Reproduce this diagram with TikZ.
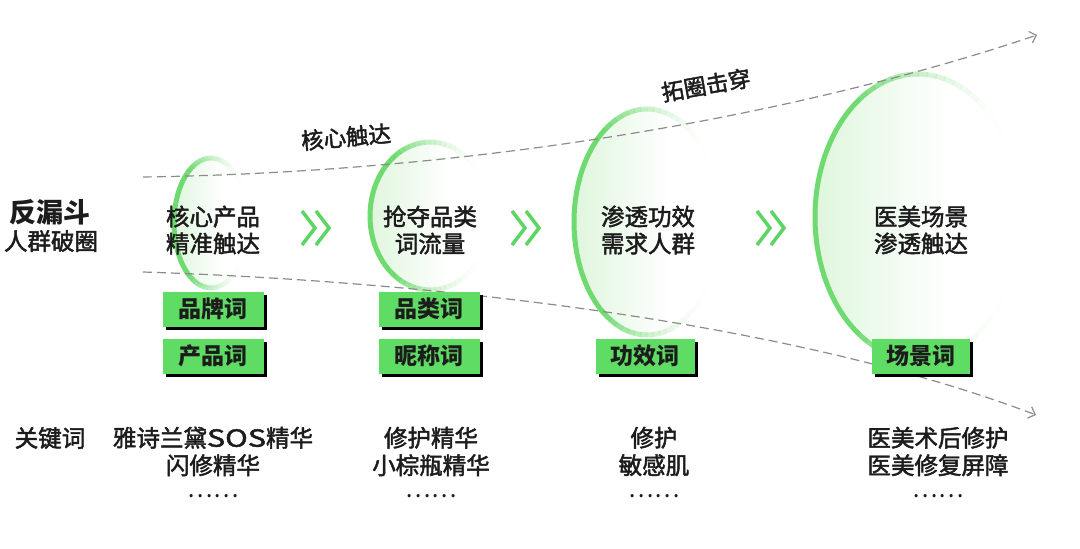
\documentclass[tikz,border=0pt]{standalone}
\usepackage{fontspec}
\setmainfont{Noto Sans CJK SC}
\newfontfamily\medfont{Noto Sans CJK SC}[FakeBold=2]
\usetikzlibrary{shadows,arrows.meta}
\definecolor{ringgreen}{HTML}{6EDA6F}
\definecolor{boxgreen}{HTML}{5FDC64}
\definecolor{fillgreen}{HTML}{DFF6DD}
\definecolor{chevgreen}{HTML}{5CD562}
\definecolor{dashgray}{HTML}{8C8C8C}
\definecolor{txt}{HTML}{1C1C1C}
\pgfdeclarehorizontalshading{ringfill}{100bp}{color(0bp)=(fillgreen); color(25bp)=(fillgreen); color(58bp)=(white); color(100bp)=(white)}
\begin{document}
\begin{tikzpicture}[x=1pt,y=-1pt,
  ringline/.style={draw=ringgreen, line width=5pt},
  kwbox/.style={fill=boxgreen, minimum width=101pt, minimum height=35pt, inner sep=0pt,
    font=\fontsize{23}{23}\selectfont\bfseries, text=txt,
    drop shadow={shadow xshift=3pt, shadow yshift=-3pt, fill=black, opacity=1}},
  stage/.style={align=center, text=txt, font=\medfont\fontsize{23.5}{27}\selectfont},
  kwtext/.style={align=center, text=txt, font=\medfont\fontsize{23.5}{27.5}\selectfont},
  funnel/.style={draw=dashgray, line width=1.2pt, dash pattern=on 9pt off 5pt,
    -{Straight Barb[length=6pt,width=12pt,line width=1.2pt]}},
  chev/.style={draw=chevgreen, line width=3.5pt, line join=miter},
  tilted/.style={text=txt, font=\medfont\fontsize{22.5}{24}\selectfont}
]
\useasboundingbox (0,0) rectangle (1080,549);
\fill[white] (0,0) rectangle (1080,549);

% rings
\foreach \cx/\cy/\rx/\ry in {211/223/37/65, 430/216/60/74, 647/222/73/113, 918/217/103/143}{
  \begin{scope}[shift={(\cx,\cy)}]
    \shade[shading=ringfill] (0,0) ellipse [x radius=\rx, y radius=\ry];
    \draw[ringline] ({130}:{\rx} and {\ry}) arc[start angle=130, end angle=230, x radius=\rx, y radius=\ry];
    \foreach \i in {0,...,18}{
      \pgfmathsetmacro\op{(1-\i/19)^2}
      \pgfmathsetmacro\sa{130-5*\i}
      \pgfmathsetmacro\sb{230+5*\i}
      \draw[ringline, draw opacity=\op] ({\sa}:{\rx} and {\ry}) arc[start angle=\sa, end angle=\sa-5.3, x radius=\rx, y radius=\ry];
      \draw[ringline, draw opacity=\op] ({\sb}:{\rx} and {\ry}) arc[start angle=\sb, end angle=\sb+5.3, x radius=\rx, y radius=\ry];
    }
  \end{scope}
}

% funnel lines
\coordinate (ua) at (143,177);
\coordinate (ub) at (1037,35);
\coordinate (la) at (143,272);
\coordinate (lb) at (1036,415);
\draw[funnel] (ua) .. controls (480,172) and (800,115) .. (ub);
\draw[funnel] (la) .. controls (450,282) and (800,325) .. (lb);

% chevrons
\foreach \x in {302,512,757}{
  \draw[chev] (\x,211) -- (\x+13,228) -- (\x,245);
  \draw[chev] (\x+14,211) -- (\x+27,228) -- (\x+14,245);
}

% left titles
\node[text=txt, font=\fontsize{27}{27}\selectfont\bfseries] (t1) at (50,212) {反漏斗};
\node[text=txt, font=\medfont\fontsize{23.5}{23.5}\selectfont] (t2) at (51,241) {人群破圈};

% stage labels
\node[stage] (s1) at (213,230) {核心产品\\精准触达};
\node[stage] (s2) at (430,230) {抢夺品类\\词流量};
\node[stage] (s3) at (648,230) {渗透功效\\需求人群};
\node[stage] (s4) at (921,230) {医美场景\\渗透触达};

% tilted labels
\node[tilted, rotate=5] (c1) at (346,137) {核心触达};
\node[tilted, rotate=10] (c2) at (706,85) {拓圈击穿};

% keyword boxes
\node[kwbox] (b1) at (213,309) {品牌词};
\node[kwbox] (b2) at (213,356) {产品词};
\node[kwbox] (b3) at (429,309) {品类词};
\node[kwbox] (b4) at (429,356) {昵称词};
\node[kwbox, minimum width=99pt] (b5) at (645,356) {功效词};
\node[kwbox, minimum width=98pt] (b6) at (921,356) {场景词};

% keywords
\node[kwtext] (k0) at (50,438) {关键词};
\node[kwtext] (k1) at (213,451.5) {雅诗兰黛{\addfontfeatures{FakeStretch=1.3}SOS}精华\\闪修精华};
\node[kwtext] (k2) at (431,451.5) {修护精华\\小棕瓶精华};
\node[kwtext] (k3) at (654,451.5) {修护\\敏感肌};
\node[kwtext] (k4) at (938,451.5) {医美术后修护\\医美修复屏障};
\foreach \x/\n in {213/d1,431/d2,654/d3,938/d4}{
  \node[text=txt, font=\fontsize{24}{24}\selectfont] (\n) at (\x,496) {……};
}
\end{tikzpicture}
\end{document}
